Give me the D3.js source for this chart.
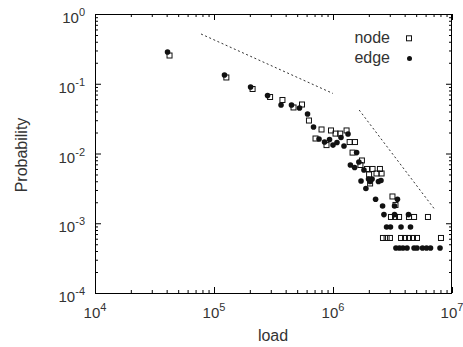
<!DOCTYPE html>
<html>
<head>
<meta charset="utf-8">
<script src="https://cdn.jsdelivr.net/npm/d3@7"></script>
<style>
	body { margin: 0; background: #fff; }
	text { font-family: "Liberation Sans", Arial, sans-serif; fill: #333; }
</style>
</head>
<body>
<svg id="chart" width="463" height="347"></svg>
<script>
// node load distribution (open squares)
let nodeLoad = [4.23e4, 1.27e5, 2.11e5, 2.96e5, 3.76e5, 4.66e5, 5.49e5, 6.28e5, 8.01e5, 7.13e5,
	8.82e5, 9.62e5, 1.05e6, 1.15e6, 1.30e6, 1.38e6, 1.53e6, 1.46e6, 1.75e6, 1.70e6,
	1.93e6, 2.15e6, 2.48e6, 2.01e6, 2.32e6, 2.56e6, 2.05e6, 3.16e6, 3.35e6,
	3.07e6, 3.32e6, 3.59e6, 4.35e6, 4.80e6, 6.28e6,
	2.63e6, 2.82e6, 3.01e6, 3.73e6, 4.03e6, 4.35e6, 4.70e6, 5.08e6, 8.08e6];
let nodeProb = [0.254, 0.123, 0.0841, 0.0646, 0.0585, 0.0457, 0.0504, 0.0297, 0.0221, 0.0164,
	0.0132, 0.0214, 0.0193, 0.0193, 0.0214, 0.0146, 0.0146, 0.0103, 0.00794, 0.00684,
	0.0060, 0.0060, 0.0060, 0.0050, 0.00517, 0.00517, 0.00372, 0.00242, 0.00183,
	0.00123, 0.00123, 0.00123, 0.00123, 0.00123, 0.00123,
	0.000615, 0.000615, 0.000615, 0.000615, 0.000615, 0.000615, 0.000615, 0.000615, 0.000615];

// edge load distribution (filled circles)
let edgeLoad = [4.07e4, 1.225e5, 2.03e5, 2.82e5, 3.66e5, 4.48e5, 5.23e5, 6.11e5, 6.86e5, 7.63e5,
	8.49e5, 9.35e5, 1.0e6, 1.08e6, 1.167e6, 1.237e6, 1.337e6, 1.40e6, 1.52e6, 1.65e6,
	1.58e6, 1.82e6, 1.72e6, 1.89e6, 1.99e6, 2.13e6, 2.05e6, 2.41e6, 2.53e6, 2.28e6,
	2.61e6, 3.29e6, 3.48e6, 2.68e6, 3.29e6, 4.31e6,
	2.82e6, 3.04e6, 3.73e6, 4.48e6,
	3.38e6, 3.62e6, 3.87e6, 4.19e6, 4.80e6, 5.08e6, 5.65e6, 6.11e6, 6.60e6, 7.93e6];
let edgeProb = [0.285, 0.1335, 0.0898, 0.0678, 0.0496, 0.0496, 0.0449, 0.0368, 0.0240, 0.0161,
	0.0146, 0.0159, 0.0132, 0.0144, 0.0170, 0.0128, 0.0190, 0.00684, 0.0063, 0.00755,
	0.0103, 0.0058, 0.00403, 0.00315, 0.00431, 0.00431, 0.00397, 0.00397, 0.0041, 0.00221,
	0.00177, 0.00177, 0.00221, 0.00133, 0.00133, 0.00133,
	0.000884, 0.000884, 0.000884, 0.000884,
	0.000442, 0.000442, 0.000442, 0.000442, 0.000442, 0.000442, 0.000442, 0.000442, 0.000442, 0.000442];

// dashed guide lines
let guideAx = [7.78e4, 1.0e6], guideAy = [0.517, 0.0725];
let guideBx = [1.66e6, 7.06e6], guideBy = [0.042, 1.63e-3];

let xTicks = [1e4, 1e5, 1e6, 1e7];
let yTicks = [1e-4, 1e-3, 1e-2, 1e-1, 1];
let xExp = ['4', '5', '6', '7'];
let yExp = ['-4', '-3', '-2', '-1', '0'];

let legendNames = ['node', 'edge'];

let width = 463, height = 347;
let leftMargin = 95, rightMargin = 11, topMargin = 14, bottomMargin = 54;

let svg = d3.select('#chart');

let xScale = d3.scaleLog()
	.domain([1e4, 1e7])
	.range([leftMargin, width - rightMargin]);
let yScale = d3.scaleLog()
	.domain([1e-4, 1])
	.range([height - bottomMargin, topMargin]);

let isMajor = (v) => Math.abs(Math.log10(v) - Math.round(Math.log10(v))) < 1e-9;
let xMinor = xScale.ticks().filter(v => !isMajor(v));
let yMinor = yScale.ticks().filter(v => !isMajor(v));

// ticks on all four sides, pointing inwards
function tickGroup(axis, tx, ty) {
	let g = svg.append('g')
		.attr('transform', `translate(${tx},${ty})`)
		.call(axis);
	g.select('.domain').remove();
	g.selectAll('line').attr('stroke', '#000');
}
let plotW = width - rightMargin - leftMargin;
let plotH = height - bottomMargin - topMargin;

tickGroup(d3.axisBottom(xScale).tickValues(xTicks).tickSize(-6).tickFormat(''), 0, height - bottomMargin);
tickGroup(d3.axisBottom(xScale).tickValues(xMinor).tickSize(-3).tickFormat(''), 0, height - bottomMargin);
tickGroup(d3.axisTop(xScale).tickValues(xTicks).tickSize(-6).tickFormat(''), 0, topMargin);
tickGroup(d3.axisTop(xScale).tickValues(xMinor).tickSize(-3).tickFormat(''), 0, topMargin);
tickGroup(d3.axisLeft(yScale).tickValues(yTicks).tickSize(-6).tickFormat(''), leftMargin, 0);
tickGroup(d3.axisLeft(yScale).tickValues(yMinor).tickSize(-3).tickFormat(''), leftMargin, 0);
tickGroup(d3.axisRight(yScale).tickValues(yTicks).tickSize(-6).tickFormat(''), width - rightMargin, 0);
tickGroup(d3.axisRight(yScale).tickValues(yMinor).tickSize(-3).tickFormat(''), width - rightMargin, 0);

svg.append('rect')
	.attr('x', leftMargin + 0.5)
	.attr('y', topMargin + 0.5)
	.attr('width', plotW - 1)
	.attr('height', plotH)
	.attr('fill', 'none')
	.attr('stroke', '#000');

// tick labels 10^n
let xLab = svg.selectAll('.xlab').data(xTicks).enter()
	.append('text')
	.attr('class', 'xlab')
	.attr('x', d => xScale(d))
	.attr('y', height - bottomMargin + 25)
	.attr('text-anchor', 'middle')
	.style('font-size', '15px');
xLab.append('tspan').text('10');
xLab.append('tspan').attr('dy', -7).style('font-size', '11px').text((d, i) => xExp[i]);

let yLab = svg.selectAll('.ylab').data(yTicks).enter()
	.append('text')
	.attr('class', 'ylab')
	.attr('x', leftMargin - 10)
	.attr('y', d => yScale(d) + 9)
	.attr('text-anchor', 'end')
	.style('font-size', '15px');
yLab.append('tspan').text('10');
yLab.append('tspan').attr('dy', -7).style('font-size', '11px').text((d, i) => yExp[i]);

// axis titles
svg.append('text')
	.attr('x', 273)
	.attr('y', 341)
	.attr('text-anchor', 'middle')
	.style('font-size', '16px')
	.text('load');

svg.append('text')
	.attr('transform', 'rotate(-90)')
	.attr('x', -155)
	.attr('y', 27)
	.attr('text-anchor', 'middle')
	.style('font-size', '16px')
	.text('Probability');

// guide lines
let line = d3.line().x(d => xScale(d[0])).y(d => yScale(d[1]));
[[guideAx, guideAy], [guideBx, guideBy]].forEach(function(g) {
	svg.append('path')
		.attr('d', line(d3.zip(g[0], g[1])))
		.attr('fill', 'none')
		.attr('stroke', '#333')
		.attr('stroke-width', 1)
		.attr('stroke-dasharray', '2,2.5');
});

// points
let nodes = d3.zip(nodeLoad, nodeProb);
let edges = d3.zip(edgeLoad, edgeProb);
let sq = 5;

svg.selectAll('.node').data(nodes).enter()
	.append('rect')
	.attr('class', 'node')
	.attr('x', d => xScale(d[0]) - sq / 2)
	.attr('y', d => yScale(d[1]) - sq / 2)
	.attr('width', sq)
	.attr('height', sq)
	.attr('fill', 'none')
	.attr('stroke', '#111')
	.attr('stroke-width', 1);

svg.selectAll('.edge').data(edges).enter()
	.append('circle')
	.attr('class', 'edge')
	.attr('cx', d => xScale(d[0]))
	.attr('cy', d => yScale(d[1]))
	.attr('r', 2.8)
	.attr('fill', '#111');

// legend
svg.selectAll('.leg').data(legendNames).enter()
	.append('text')
	.attr('class', 'leg')
	.attr('x', 390)
	.attr('y', (d, i) => 43 + i * 20)
	.attr('text-anchor', 'end')
	.style('font-size', '16px')
	.text(d => d);

svg.append('rect')
	.attr('x', 409 - sq / 2)
	.attr('y', 38.3 - sq / 2)
	.attr('width', sq)
	.attr('height', sq)
	.attr('fill', 'none')
	.attr('stroke', '#111');
svg.append('circle')
	.attr('cx', 409.5)
	.attr('cy', 58.5)
	.attr('r', 2.5)
	.attr('fill', '#111');
</script>
</body>
</html>
